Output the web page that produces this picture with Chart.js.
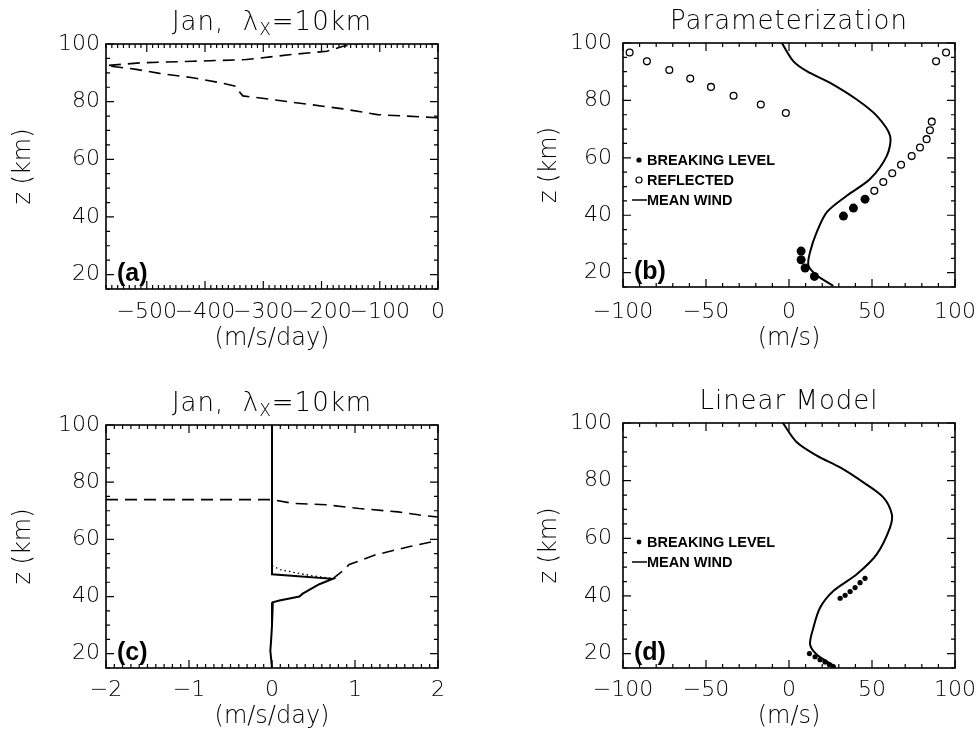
<!DOCTYPE html>
<html>
<head>
<meta charset="utf-8">
<script src="https://cdn.jsdelivr.net/npm/chart.js@4.4.1/dist/chart.umd.min.js"></script>
<style>
  body { margin: 0; background: #fff; width: 979px; height: 742px; position: relative; overflow: hidden; }
  canvas { position: absolute; }
</style>
</head>
<body>
<canvas id="ca" width="470" height="370" style="left:0;top:0"></canvas>
<canvas id="cb" width="478" height="370" style="left:510px;top:0"></canvas>
<canvas id="cc" width="470" height="371" style="left:0;top:371px"></canvas>
<canvas id="cd" width="475" height="371" style="left:510px;top:371px"></canvas>
<script>
// tick values
const zTicks = [20, 40, 60, 80, 100];
const aTicks = [-500, -400, -300, -200, -100, 0];
const windTicks = [-100, -50, 0, 50, 100];
const cTicks = [-2, -1, 0, 1, 2];

// (a) drag profiles, m/s/day vs z km
const aLowU = [0, -104, -163, -220, -284, -335, -340, -346, -375, -421, -478, -518, -565];
const aLowZ = [74.4, 75.5, 77.5, 79, 80.7, 82.0, 83.2, 85.3, 86.6, 88.3, 89.8, 91.2, 92.4];
const aUpU = [-565, -508, -421, -329, -249, -191, -163, -139, -120];
const aUpZ = [92.6, 93.5, 94, 94.6, 96.4, 97.5, 99.2, 100, 100.8];

// (b) parameterization
const bWindU = [-4.3, 2.7, 10.7, 24.8, 40.8, 52.9, 60.9, 58.9, 48.8, 34.8, 22.8, 16.7, 12.7, 11.7, 16.7, 26.7];
const bWindZ = [100, 93.6, 90.2, 86.1, 80.3, 74.6, 67.6, 60.7, 52.6, 46.8, 41.1, 34.1, 27.2, 22.5, 19.1, 15.4];
const bBreakU = [7.3, 7.3, 9.7, 15.3, 32.8, 38.8, 45.8];
const bBreakZ = [27.5, 24.5, 21.6, 18.7, 39.7, 42.5, 45.6];
const bReflU = [-96, -85.6, -72.1, -59.5, -47, -33.4, -17, -1.9, 94.6, 88.6, 86, 84.9, 82.9, 78.9, 73.9, 67.5, 62.2, 56.8, 51.4];
const bReflZ = [96.7, 93.6, 90.6, 87.6, 84.7, 81.6, 78.6, 75.6, 96.7, 93.6, 72.6, 69.6, 66.5, 63.6, 60.6, 57.6, 54.6, 51.6, 48.5];

// (c) drag profiles
const cSolidU = [0, 0, 0.73, 0.57, 0.37, 0.33, 0.09, 0.01, 0, -0.01, -0.02, -0.01, 0];
const cSolidZ = [100, 47.8, 46.2, 44.3, 41, 40, 38.6, 38, 30, 25, 21, 18, 15];
const cDotU = [0, 0.1, 0.3, 0.5, 0.73];
const cDotZ = [50.8, 49.4, 48.2, 47.2, 46.3];
const cUpU = [-2, 0, 0.25, 0.65, 1.05, 1.52, 1.78, 2];
const cUpZ = [73.9, 73.9, 72.6, 72.1, 70.8, 69.6, 68.5, 67.8];
const cLowU = [0.73, 0.85, 0.93, 1.25, 1.66, 2];
const cLowZ = [46.2, 48.9, 51.2, 54.6, 57.5, 59.6];

// (d) linear model
const dWindU = [-3.7, 4.7, 16.7, 30.8, 44.8, 56.8, 61.9, 60.9, 52.9, 40.8, 26.7, 18.7, 14.7, 12.7, 16.7, 26.7];
const dWindZ = [100, 93.3, 88.7, 84.6, 79.4, 74.2, 68.4, 63.8, 54.5, 47.5, 41.7, 35.9, 29, 23.2, 19.7, 15.9];
const dBreakU = [30.8, 33.8, 36.8, 39.8, 42.8, 45.8, 12.3, 15.7, 18.7, 21.7, 24.3, 26.7];
const dBreakZ = [39.2, 40.2, 41.5, 42.9, 44.6, 46.1, 20, 18.9, 17.9, 17.1, 16.2, 15.5];

const pts = (xs, zs) => xs.map((v, i) => ({ x: v, y: zs[i] }));
const FONT = '"DejaVu Sans", sans-serif';

function dashed(xs, zs) {
  return { data: pts(xs, zs), showLine: true, borderColor: '#000', borderWidth: 1.6,
           borderDash: [12, 7], pointRadius: 0, tension: 0 };
}
function solid(xs, zs, tension) {
  return { data: pts(xs, zs), showLine: true, borderColor: '#000', borderWidth: 2,
           pointRadius: 0, tension: tension };
}
function dots(xs, zs, r, open) {
  return { data: pts(xs, zs), showLine: false, pointRadius: r,
           backgroundColor: open ? 'rgba(0,0,0,0)' : '#000', borderColor: '#000',
           borderWidth: open ? 1.3 : 0 };
}

// box, inward ticks, title, panel label and legend
const deco = {
  id: 'deco',
  afterDraw(chart, args, o) {
    const { ctx, chartArea: a, scales } = chart;
    ctx.save();
    ctx.strokeStyle = '#000';
    ctx.lineWidth = 1.6;
    ctx.strokeRect(a.left, a.top, a.right - a.left, a.bottom - a.top);

    ctx.lineWidth = 1.2;
    ctx.beginPath();
    const along = (sc, step, fn) => {
      const start = Math.ceil(sc.min / step - 1e-6);
      for (let i = start; i * step <= sc.max + 1e-6; i++) {
        const v = i * step;
        const major = sc.ticks.some(t => Math.abs(t.value - v) < step / 100);
        fn(sc.getPixelForValue(v), major ? 8 : 4);
      }
    };
    along(scales.x, o.xMinor, (p, len) => {
      ctx.moveTo(p, a.bottom); ctx.lineTo(p, a.bottom - len);
      ctx.moveTo(p, a.top); ctx.lineTo(p, a.top + len);
    });
    along(scales.y, o.yMinor, (p, len) => {
      ctx.moveTo(a.left, p); ctx.lineTo(a.left + len, p);
      ctx.moveTo(a.right, p); ctx.lineTo(a.right - len, p);
    });
    ctx.stroke();

    // title with optional subscript part
    ctx.fillStyle = '#000';
    ctx.textBaseline = 'middle';
    ctx.letterSpacing = '1px';
    const fontFor = p => p.sub ? '300 17px ' + FONT : '300 26px ' + FONT;
    let w = 0;
    o.title.forEach(p => { ctx.font = fontFor(p); w += ctx.measureText(p.t).width; });
    let x = (a.left + a.right) / 2 - w / 2;
    const ty = a.top - 21;
    o.title.forEach(p => {
      ctx.font = fontFor(p);
      ctx.textAlign = 'left';
      ctx.fillText(p.t, x, p.sub ? ty + 8 : ty);
      x += ctx.measureText(p.t).width;
    });
    ctx.letterSpacing = '0px';

    ctx.font = 'bold 25px "Liberation Sans", Arial, sans-serif';
    ctx.textAlign = 'left';
    ctx.fillText(o.label, a.left + 11, a.bottom - 15);

    (o.legend || []).forEach(e => {
      const yy = a.top + e.dy;
      ctx.beginPath();
      if (e.kind === 'dot') {
        ctx.arc(a.left + 16, yy, e.r, 0, Math.PI * 2);
        ctx.fill();
      } else if (e.kind === 'ring') {
        ctx.lineWidth = 1.2;
        ctx.arc(a.left + 16, yy, e.r, 0, Math.PI * 2);
        ctx.stroke();
      } else {
        ctx.lineWidth = 1.5;
        ctx.moveTo(a.left + 9, yy); ctx.lineTo(a.left + 24, yy);
        ctx.stroke();
      }
      ctx.font = 'bold 14.5px "Liberation Sans", Arial, sans-serif';
      ctx.fillText(e.text, a.left + 24, yy + 1);
    });
    ctx.restore();
  }
};

function panel(id, p) {
  const minus = v => String(v).replace('-', '\u2212');
  new Chart(document.getElementById(id), {
    type: 'scatter',
    data: { datasets: p.datasets },
    plugins: [deco],
    options: {
      responsive: false,
      animation: false,
      events: [],
      layout: { padding: { left: 0, right: p.padRight, top: p.padTop, bottom: 0 } },
      plugins: {
        legend: { display: false },
        tooltip: { enabled: false },
        deco: { title: p.title, label: p.label, legend: p.legend, xMinor: p.xMinor, yMinor: 5 }
      },
      scales: {
        x: {
          type: 'linear', min: p.xMin, max: p.xMax,
          grid: { display: false, drawTicks: false }, border: { display: false },
          afterBuildTicks: s => { s.ticks = p.xTicks.map(v => ({ value: v })); },
          afterFit: s => { s.height = p.xHeight; },
          ticks: { autoSkip: false, maxRotation: 0, padding: p.xTickPad, color: '#000',
                   font: { family: FONT, size: 22, weight: '300' }, callback: minus },
          title: { display: true, text: p.xTitle, color: '#000', padding: p.xTitlePad,
                   font: { family: FONT, size: 24, weight: '300' } }
        },
        y: {
          type: 'linear', min: 15, max: 100,
          grid: { display: false, drawTicks: false }, border: { display: false },
          afterBuildTicks: s => { s.ticks = zTicks.map(v => ({ value: v })); },
          afterFit: s => { s.width = p.yWidth; },
          ticks: { padding: p.yTickPad, color: '#000',
                   font: { family: FONT, size: 22, weight: '300' } },
          title: { display: true, text: 'z (km)', color: '#000', padding: p.yTitlePad,
                   font: { family: FONT, size: 24, weight: '300' } }
        }
      }
    }
  });
}

const janTitle = [{ t: 'Jan,  \u03bb' }, { t: 'X', sub: true }, { t: '=10km' }];

panel('ca', {
  datasets: [dashed(aLowU, aLowZ), dashed(aUpU, aUpZ)],
  xMin: -570, xMax: 0, xTicks: aTicks, xMinor: 10, xTitle: '(m/s/day)',
  padTop: 44, padRight: 32, yWidth: 106, xHeight: 81, xTickPad: 10, xTitlePad: 17,
  yTickPad: 6, yTitlePad: 9, title: janTitle, label: '(a)'
});

panel('cb', {
  datasets: [solid(bWindU, bWindZ, 0.3), dots(bBreakU, bBreakZ, 4.5, false), dots(bReflU, bReflZ, 3.4, true)],
  xMin: -100, xMax: 100, xTicks: windTicks, xMinor: 10, xTitle: '(m/s)',
  padTop: 43, padRight: 24, yWidth: 113, xHeight: 83, xTickPad: 12, xTitlePad: 17,
  yTickPad: 11, yTitlePad: 25, title: [{ t: 'Parameterization' }], label: '(b)',
  legend: [
    { kind: 'dot', r: 2.6, dy: 117, text: 'BREAKING LEVEL' },
    { kind: 'ring', r: 3, dy: 137, text: 'REFLECTED' },
    { kind: 'line', dy: 157, text: 'MEAN WIND' }
  ]
});

panel('cc', {
  datasets: [solid(cSolidU, cSolidZ, 0), dashed(cUpU, cUpZ), dashed(cLowU, cLowZ),
             { data: pts(cDotU, cDotZ), showLine: true, borderColor: '#000', borderWidth: 1.3,
               borderDash: [1.5, 3], pointRadius: 0 }],
  xMin: -2, xMax: 2, xTicks: cTicks, xMinor: 0.1, xTitle: '(m/s/day)',
  padTop: 54, padRight: 32, yWidth: 106, xHeight: 74, xTickPad: 9, xTitlePad: 11,
  yTickPad: 6, yTitlePad: 9, title: janTitle, label: '(c)'
});

panel('cd', {
  datasets: [solid(dWindU, dWindZ, 0.3), dots(dBreakU, dBreakZ, 2.6, false)],
  xMin: -100, xMax: 100, xTicks: windTicks, xMinor: 10, xTitle: '(m/s)',
  padTop: 52, padRight: 24, yWidth: 113, xHeight: 74, xTickPad: 9, xTitlePad: 11,
  yTickPad: 11, yTitlePad: 25, title: [{ t: 'Linear Model' }], label: '(d)',
  legend: [
    { kind: 'dot', r: 2.4, dy: 119, text: 'BREAKING LEVEL' },
    { kind: 'line', dy: 139, text: 'MEAN WIND' }
  ]
});
</script>
</body>
</html>
